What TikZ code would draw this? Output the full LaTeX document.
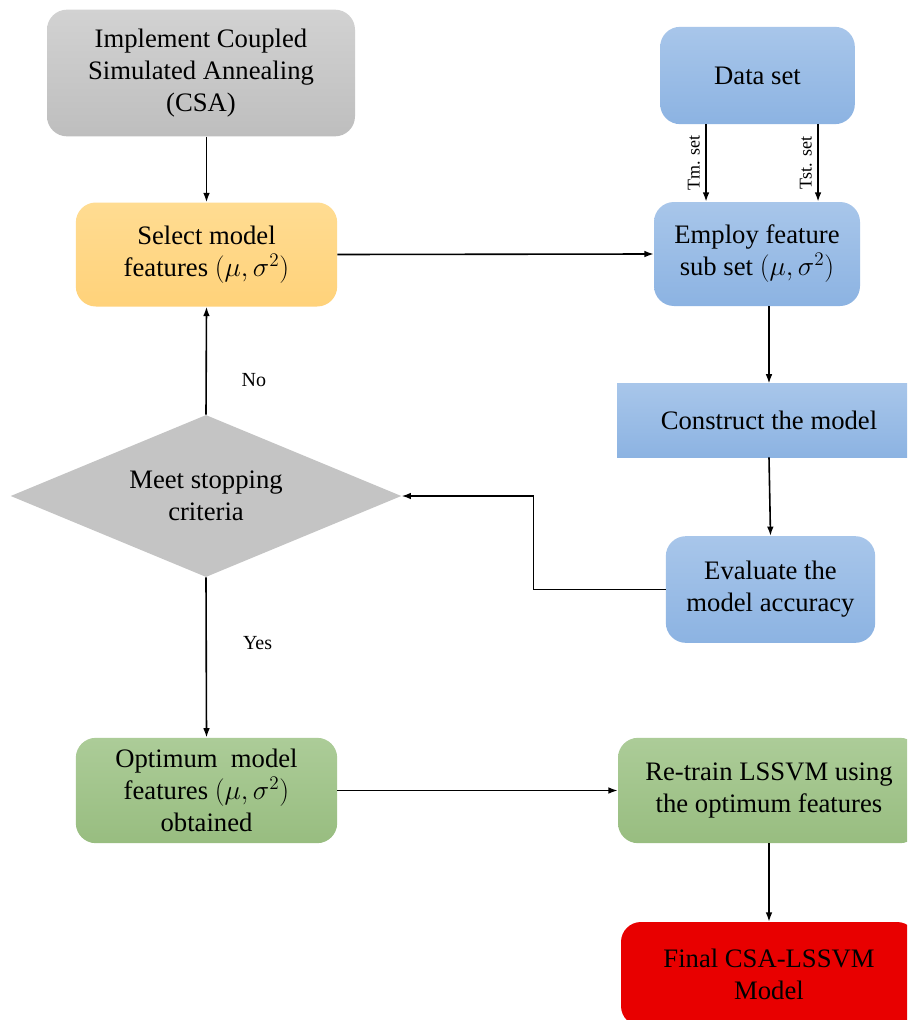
\documentclass[tikz,border=0pt]{standalone}
\usepackage{fontspec}
\setmainfont{Liberation Serif}
\usetikzlibrary{shapes.geometric,arrows.meta,calc}
\definecolor{gtop}{RGB}{210,210,210}
\definecolor{gbot}{RGB}{190,190,190}
\definecolor{ytop}{RGB}{255,220,146}
\definecolor{ybot}{RGB}{255,210,122}
\definecolor{btop}{RGB}{168,198,234}
\definecolor{bbot}{RGB}{140,179,226}
\definecolor{ktop}{RGB}{172,204,152}
\definecolor{kbot}{RGB}{152,189,128}
\definecolor{redbox}{RGB}{232,0,0}
\definecolor{diag}{RGB}{196,196,196}
\tikzset{
  boxbase/.style={rounded corners=15pt, align=center, inner sep=2pt,
    font=\fontsize{20}{24}\selectfont},
  graybox/.style={boxbase, top color=gtop, bottom color=gbot},
  yelbox/.style={boxbase, top color=ytop, bottom color=ybot},
  bluebox/.style={boxbase, top color=btop, bottom color=bbot},
  grnbox/.style={boxbase, top color=ktop, bottom color=kbot},
  redstyle/.style={boxbase, fill=redbox},
  arr/.style={line width=1.2pt, -{Latex[length=7pt,width=5pt]}},
  lab/.style={font=\fontsize{15}{18}\selectfont, inner sep=0pt, anchor=west},
  rlab/.style={font=\fontsize{13.5}{16}\selectfont, inner sep=4pt, rotate=90, anchor=south},
}
\begin{document}
\begin{tikzpicture}[x=0.75pt,y=-0.75pt]
\fill[white] (0,0) rectangle (907,1020);
\clip (0,0) rectangle (907,1020);
\node[graybox, minimum width=231pt, minimum height=95pt] (csa) at (201,73)
  {Implement Coupled\\Simulated Annealing\\(CSA)};
\node[bluebox, minimum width=146pt, minimum height=73pt] (data) at (757.5,75.5) {Data set};
\node[yelbox, minimum width=196pt, minimum height=78pt] (sel) at (206.5,254.5)
  {Select model\\features $(\mu,\sigma^2)$};
\node[bluebox, minimum width=154.5pt, minimum height=78pt] (emp) at (757,254)
  {Employ feature\\sub set $(\mu,\sigma^2)$};
\node[bluebox, rounded corners=0pt, minimum width=228pt, minimum height=55pt] (cons) at (769,420.5)
  {Construct the model};
\node[bluebox, minimum width=157pt, minimum height=80pt] (eval) at (770.5,589.5)
  {Evaluate the\\model accuracy};
\node[diamond, fill=diag, aspect=2.4, inner sep=0pt, minimum width=293pt, minimum height=121.5pt,
  align=center, font=\fontsize{20}{24}\selectfont] (dia) at (206,496)
  {Meet stopping\\criteria};
\node[grnbox, minimum width=196pt, minimum height=79pt] (opt) at (206.5,790.5)
  {Optimum~ model\\features $(\mu,\sigma^2)$\\obtained};
\node[grnbox, minimum width=226.5pt, minimum height=79pt] (retr) at (769,790.5)
  {Re-train LSSVM using\\the optimum features};
\node[redstyle, minimum width=222pt, minimum height=78pt] (fin) at (769,974)
  {Final CSA-LSSVM\\Model};

\draw[arr] (sel.north |- csa.south) -- (sel.north);
\draw[arr] ([xshift=-38.6pt]data.south) -- ([xshift=-38.6pt]data.south |- emp.north)
  node[midway, rlab] {Tm. set};
\draw[arr] ([xshift=45.4pt]data.south) -- ([xshift=45.4pt]data.south |- emp.north)
  node[midway, rlab] {Tst. set};
\draw[arr] (sel.east) -- (emp.west);
\draw[arr] (cons.north |- emp.south) -- (cons.north);
\draw[arr] (cons.south) -- (eval.north);
\draw[arr] (eval.west) -- ++(-99pt,0) |- (dia.east);
\draw[arr] (dia.north) -- node[lab, pos=0.32, xshift=26pt] {No} (sel.south);
\draw[arr] (dia.south) -- node[lab, pos=0.41, xshift=27pt] {Yes} (opt.north);
\draw[arr] (opt.east) -- (retr.west);
\draw[arr] (retr.south) -- (fin.north);
\end{tikzpicture}
\end{document}
